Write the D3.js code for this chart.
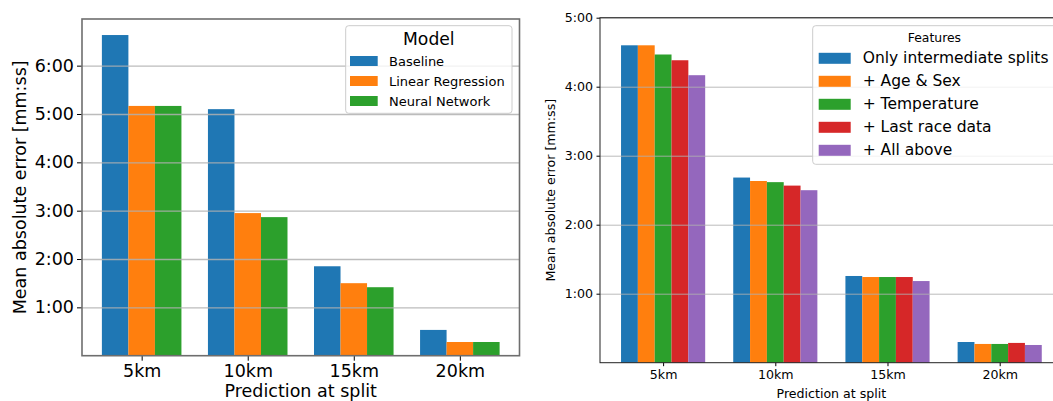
<!DOCTYPE html>
<html>
<head>
<meta charset="utf-8">
<script src="https://cdn.jsdelivr.net/npm/d3@7"></script>
<style>
  body { margin: 0; background: #fff; }
  svg { display: block; font-family: "DejaVu Sans", sans-serif; }
</style>
</head>
<body>
<svg id="chart" width="1053" height="401"></svg>
<script>
// ====================
// Data (values in seconds)
// ====================
const splits = ["5km", "10km", "15km", "20km"];

// left panel: models
const models = ["Baseline", "Linear Regression", "Neural Network"];
const baseline   = [398, 306, 111, 32];
const linearReg  = [310, 177, 90, 17];
const neuralNet  = [310, 172, 85, 17];

// right panel: feature sets
const features = ["Only intermediate splits", "+ Age & Sex", "+ Temperature", "+ Last race data", "+ All above"];
const onlySplits  = [276, 161, 75.4, 18];
const ageSex      = [276, 158, 74.5, 16.3];
const temperature = [268, 157, 74.5, 16.3];
const lastRace    = [263, 154, 74.5, 17.2];
const allAbove    = [250, 150, 71, 15.4];

const leftTicks  = [60, 120, 180, 240, 300, 360];
const rightTicks = [60, 120, 180, 240, 300];

const colors = ["#1f77b4", "#ff7f0e", "#2ca02c", "#d62728", "#9467bd"];

const fmt = s => `${Math.floor(s / 60)}:${String(Math.round(s % 60)).padStart(2, "0")}`;

const svg = d3.select("#chart");

// ====================
// Draw one grouped bar panel
// ====================
function drawPanel(opt) {
    const g = svg.append("g");
    const nSeries = opt.series.length;
    const bw = opt.barWidth;

    const x = d3.scaleLinear().domain([-0.5625, 3.5625]).range([opt.left, opt.right]);
    const y = d3.scaleLinear().domain([0, opt.ymax]).range([opt.bottom, opt.top]);

    // bars
    opt.series.forEach((vals, si) => {
        const off = (si - (nSeries - 1) / 2) * bw;
        g.append("g").selectAll("rect")
            .data(vals)
            .join("rect")
            .attr("x", (d, i) => x(i + off - bw / 2))
            .attr("width", x(bw) - x(0))
            .attr("y", d => y(d))
            .attr("height", d => y(0) - y(d))
            .attr("fill", colors[si]);
    });

    // horizontal gridlines (matplotlib draws them over the patches)
    g.append("g")
        .attr("transform", `translate(${opt.left},0)`)
        .call(d3.axisLeft(y).tickValues(opt.ticks).tickSize(-(opt.right - opt.left)).tickFormat(""))
        .call(a => a.select(".domain").remove())
        .selectAll("line")
        .attr("stroke", "#b0b0b0")
        .attr("stroke-width", opt.gridW)
        .attr("opacity", 0.85);

    // y axis ticks + labels
    const ya = g.append("g")
        .attr("transform", `translate(${opt.left},0)`)
        .call(d3.axisLeft(y).tickValues(opt.ticks).tickSize(opt.tickLen).tickPadding(opt.tickPad).tickFormat(fmt));
    ya.select(".domain").remove();
    ya.selectAll("text").attr("font-size", opt.tickFont).attr("fill", "#000").attr("font-family", "DejaVu Sans");
    ya.selectAll("line").attr("stroke", "#000").attr("stroke-width", 1);

    // x axis
    const xa = g.append("g")
        .attr("transform", `translate(0,${opt.bottom})`)
        .call(d3.axisBottom(x).tickValues(d3.range(splits.length)).tickSize(opt.tickLen).tickPadding(opt.xPad)
            .tickFormat(i => splits[i]));
    xa.select(".domain").remove();
    xa.selectAll("text").attr("font-size", opt.tickFont).attr("fill", "#000").attr("font-family", "DejaVu Sans");
    xa.selectAll("line").attr("stroke", "#000").attr("stroke-width", 1);

    // spines
    g.append("rect")
        .attr("x", opt.left).attr("y", opt.top)
        .attr("width", opt.right - opt.left).attr("height", opt.bottom - opt.top)
        .attr("fill", "none")
        .attr("stroke", opt.spine)
        .attr("stroke-width", opt.spineW);

    // axis titles
    g.append("text")
        .attr("x", (opt.left + opt.right) / 2)
        .attr("y", opt.xlabelY)
        .attr("text-anchor", "middle")
        .attr("font-size", opt.labelFont)
        .text("Prediction at split");

    g.append("text")
        .attr("transform", `translate(${opt.ylabelX},${(opt.top + opt.bottom) / 2}) rotate(-90)`)
        .attr("text-anchor", "middle")
        .attr("dominant-baseline", "central")
        .attr("font-size", opt.labelFont)
        .text("Mean absolute error [mm:ss]");

    // legend
    const L = opt.legend;
    const lg = g.append("g");
    lg.append("rect")
        .attr("x", L.x).attr("y", L.y).attr("width", L.w).attr("height", L.h)
        .attr("rx", 3)
        .attr("fill", "#fff").attr("fill-opacity", 0.8)
        .attr("stroke", "#cccccc").attr("stroke-width", 1);
    lg.append("text")
        .attr("x", L.x + L.w / 2).attr("y", L.titleY)
        .attr("text-anchor", "middle")
        .attr("dominant-baseline", "central")
        .attr("font-size", L.titleFont)
        .text(L.title);
    L.names.forEach((name, i) => {
        const cy = L.row0 + i * L.rowStep;
        lg.append("rect")
            .attr("x", L.hx).attr("y", cy - L.hh / 2)
            .attr("width", L.hw).attr("height", L.hh)
            .attr("fill", colors[i]);
        lg.append("text")
            .attr("x", L.tx).attr("y", cy)
            .attr("dominant-baseline", "central")
            .attr("font-size", L.font)
            .text(name);
    });
}

// ====================
// Left panel
// ====================
drawPanel({
    series: [baseline, linearReg, neuralNet],
    barWidth: 0.25,
    left: 82, right: 519.5, top: 19, bottom: 355.7,
    ymax: d3.max(baseline) * 1.05,
    ticks: leftTicks,
    tickFont: 17.5, labelFont: 17.5,
    tickLen: 5, tickPad: 3, xPad: 4,
    gridW: 1.3,
    spine: "#6e6e6e", spineW: 1.6,
    xlabelY: 396.5, ylabelX: 20,
    legend: {
        x: 345.7, y: 25.7, w: 166.3, h: 87.6,
        title: "Model", titleFont: 17.2, titleY: 39,
        names: models, font: 13,
        row0: 61, rowStep: 20,
        hx: 350, hw: 27.7, hh: 10, tx: 389
    }
});

// ====================
// Right panel
// ====================
drawPanel({
    series: [onlySplits, ageSex, temperature, lastRace, allAbove],
    barWidth: 0.15,
    left: 600, right: 1062.8, top: 17.7, bottom: 362.7,
    ymax: 300,
    ticks: rightTicks,
    tickFont: 12.6, labelFont: 12.6,
    tickLen: 3.5, tickPad: 3.5, xPad: 3.5,
    gridW: 1,
    spine: "#222", spineW: 1,
    xlabelY: 397.5, ylabelX: 550,
    legend: {
        x: 812.7, y: 25.7, w: 243.5, h: 138.6,
        title: "Features", titleFont: 12.4, titleY: 37,
        names: features, font: 15.5,
        row0: 58.3, rowStep: 23,
        hx: 818.7, hw: 32, hh: 11, tx: 862.7
    }
});
</script>
</body>
</html>
